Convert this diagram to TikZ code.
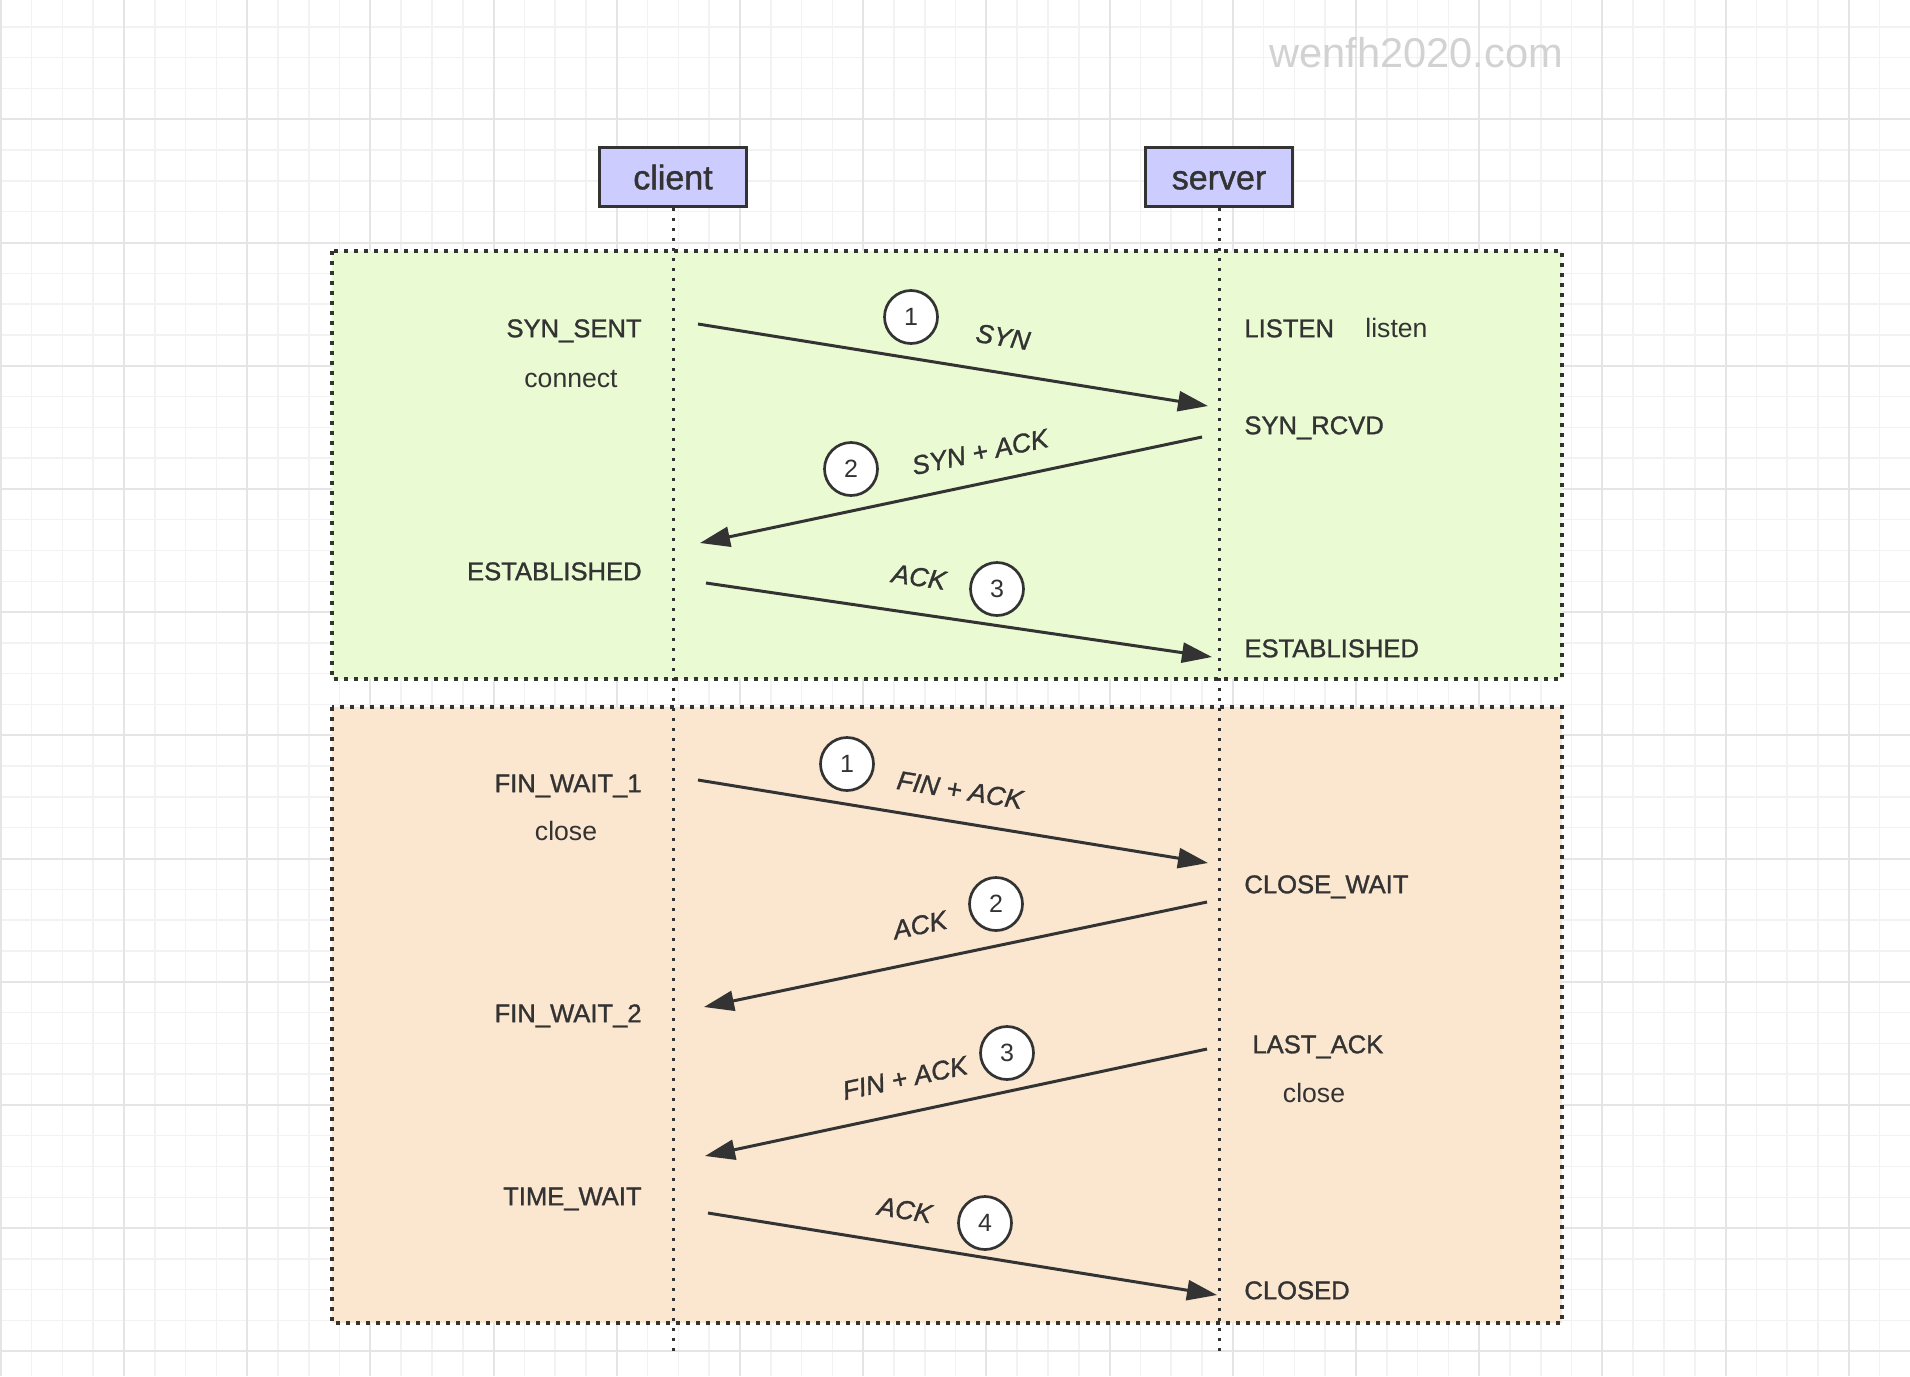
\documentclass[tikz,border=0pt]{standalone}
\usepackage{fontspec}
\setmainfont{Liberation Sans}
\newfontfamily\medfont{Liberation Sans}[FakeBold=1.2]
\usetikzlibrary{arrows.meta}
\definecolor{ink}{HTML}{333333}
\definecolor{synfill}{HTML}{EAFAD2}
\definecolor{finfill}{HTML}{FBE6CF}
\definecolor{hdrfill}{HTML}{CCCCFF}
\definecolor{gridminor}{HTML}{F2F2F2}
\definecolor{gridmajor}{HTML}{E5E5E5}
\definecolor{wmgray}{HTML}{D2D2D2}
\begin{document}
\begin{tikzpicture}[x=0.5pt,y=-0.5pt,
  hdr/.style={draw=ink, line width=1.5pt, fill=hdrfill, minimum width=73.5pt, minimum height=29.5pt, inner sep=0pt, text height=12.3pt, text depth=0pt, font=\medfont\fontsize{17}{20}\selectfont, text=ink},
  state/.style={inner sep=0pt, text height=9.2pt, text depth=0pt, font=\medfont\fontsize{12.8}{15}\selectfont, text=ink},
  call/.style={inner sep=0pt, text height=9.2pt, text depth=0pt, font=\fontsize{13.3}{15}\selectfont, text=ink},
  seq/.style={circle, draw=ink, line width=1.35pt, fill=white, minimum size=26.5pt, inner sep=0pt, font=\fontsize{12.5}{14}\selectfont, text=ink},
  msg/.style={draw=ink, line width=1.5pt, -{Triangle[length=15pt,width=10pt]}},
  flag/.style={inner sep=0pt, font=\medfont\fontsize{13.2}{15}\selectfont\itshape, text=ink},
  phase/.style={draw=ink, line width=1.8pt, dash pattern=on 1.8pt off 3.2pt},
  life/.style={draw=ink, line width=1.5pt, dash pattern=on 1.6pt off 3.4pt}]
  \useasboundingbox (0,0) rectangle (1910,1376);
  \fill[white] (0,0) rectangle (1910,1376);
  % grid
  \foreach \k in {0,...,62} \draw[gridminor, line width=0.75pt] ({0.8+30.8*\k},0) -- ({0.8+30.8*\k},1376);
  \foreach \k in {1,...,44} \draw[gridminor, line width=0.75pt] (0,{-3.9+30.8*\k}) -- (1910,{-3.9+30.8*\k});
  \foreach \k in {0,4,...,60} \draw[gridmajor, line width=1pt] ({0.8+30.8*\k},0) -- ({0.8+30.8*\k},1376);
  \foreach \k in {4,8,...,44} \draw[gridmajor, line width=1pt] (0,{-3.9+30.8*\k}) -- (1910,{-3.9+30.8*\k});
  \node[wmgray, anchor=base, font=\fontsize{20.8}{24}\selectfont] (mark) at (1416,67) {wenfh2020.com};
  % phases
  \draw[phase, fill=synfill] (332,251) rectangle (1562,679);
  \draw[phase, fill=finfill] (332,707) rectangle (1562,1323);
  % peers
  \node[hdr] (client) at (673,177) {client};
  \node[hdr] (server) at (1219,177) {server};
  \coordinate (client-foot) at (673,1352);
  \coordinate (server-foot) at (1219,1352);
  \draw[life] (client.south) -- (client-foot);
  \draw[life] (server.south) -- (server-foot);
  % states
  \node[state, anchor=east] (c-synsent) at (642,328) {SYN\_SENT};
  \node[call] (c-connect) at (571,378) {connect};
  \node[state, anchor=east] (c-estab) at (642,571) {ESTABLISHED};
  \node[state, anchor=east] (c-fw1) at (642,783) {FIN\_WAIT\_1};
  \node[call] (c-close) at (566,831) {close};
  \node[state, anchor=east] (c-fw2) at (642,1013) {FIN\_WAIT\_2};
  \node[state, anchor=east] (c-tw) at (642,1196) {TIME\_WAIT};
  \node[state, anchor=west] (s-listen) at (1244,328) {LISTEN};
  \node[call, anchor=west] (s-listencall) at (1365,328) {listen};
  \node[state, anchor=west] (s-rcvd) at (1244,425) {SYN\_RCVD};
  \node[state, anchor=west] (s-estab) at (1244,648) {ESTABLISHED};
  \node[state, anchor=west] (s-cw) at (1244,884) {CLOSE\_WAIT};
  \node[state, anchor=west] (s-lastack) at (1252,1044) {LAST\_ACK};
  \node[call] (s-close) at (1314,1093) {close};
  \node[state, anchor=west] (s-closed) at (1244,1290) {CLOSED};
  % handshake
  \coordinate (h1a) at (698,324);  \coordinate (h1b) at (1208,406);
  \coordinate (h2a) at (1202,437); \coordinate (h2b) at (700,543);
  \coordinate (h3a) at (706,583);  \coordinate (h3b) at (1212,657);
  \draw[msg] (h1a) -- (h1b);
  \draw[msg] (h2a) -- (h2b);
  \draw[msg] (h3a) -- (h3b);
  \node[seq] (h1) at (911,317) {1};
  \node[seq] (h2) at (851,469) {2};
  \node[seq] (h3) at (997,589) {3};
  \node[flag, rotate=-9.1] (h1-flag) at (1003,337) {SYN};
  \node[flag, rotate=11.9] (h2-flag) at (980,452) {SYN + ACK};
  \node[flag, rotate=-8.3] (h3-flag) at (919,577) {ACK};
  % teardown
  \coordinate (w1a) at (698,780);  \coordinate (w1b) at (1208,863);
  \coordinate (w2a) at (1207,902); \coordinate (w2b) at (704,1007);
  \coordinate (w3a) at (1207,1049); \coordinate (w3b) at (705,1156);
  \coordinate (w4a) at (708,1213); \coordinate (w4b) at (1217,1295);
  \draw[msg] (w1a) -- (w1b);
  \draw[msg] (w2a) -- (w2b);
  \draw[msg] (w3a) -- (w3b);
  \draw[msg] (w4a) -- (w4b);
  \node[seq] (w1) at (847,764) {1};
  \node[seq] (w2) at (996,904) {2};
  \node[seq] (w3) at (1007,1053) {3};
  \node[seq] (w4) at (985,1223) {4};
  \node[flag, rotate=-9.2] (w1-flag) at (960,790) {FIN + ACK};
  \node[flag, rotate=11.8] (w2-flag) at (920,925) {ACK};
  \node[flag, rotate=12] (w3-flag) at (905,1078) {FIN + ACK};
  \node[flag, rotate=-9.2] (w4-flag) at (905,1210) {ACK};
\end{tikzpicture}
\end{document}
